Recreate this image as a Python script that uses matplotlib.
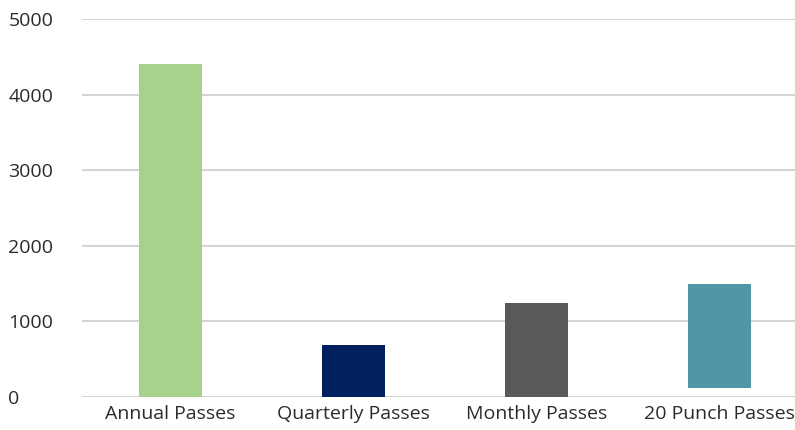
import matplotlib.pyplot as plt

# pass sales by type
categories = ['Annual Passes', 'Quarterly Passes', 'Monthly Passes', '20 Punch Passes']
bottoms = [0, 0, 0, 120]
tops = [4400, 690, 1250, 1500]
colors = ['#A9D18E', '#002060', '#595959', '#5195A6']

plt.rcParams['font.family'] = ['Open Sans', 'DejaVu Sans']

fig = plt.figure(figsize=(7.95, 4.30), dpi=100)
ax = fig.add_axes([82 / 795, 33 / 430, 729 / 795, 378 / 430])

heights = [t - b for t, b in zip(tops, bottoms)]
ax.bar(range(len(categories)), heights, bottom=bottoms, width=0.345, color=colors, zorder=3)

ax.set_xlim(-0.4836, 3.5)
ax.set_ylim(0, 5000)
ax.set_yticks([0, 1000, 2000, 3000, 4000, 5000])
ax.grid(axis='y', color='#D4D4D4', linewidth=1.5, zorder=0)
ax.set_xticks(range(len(categories)))
ax.set_xticklabels(categories)

for s in ax.spines.values():
    s.set_visible(False)
ax.tick_params(length=0, labelsize=14, labelcolor='#2b2b2b')
ax.tick_params(axis='y', pad=53)
ax.tick_params(axis='x', pad=6)
for lbl in ax.get_yticklabels():
    lbl.set_horizontalalignment('left')

fig.savefig('out.png', dpi=100)
